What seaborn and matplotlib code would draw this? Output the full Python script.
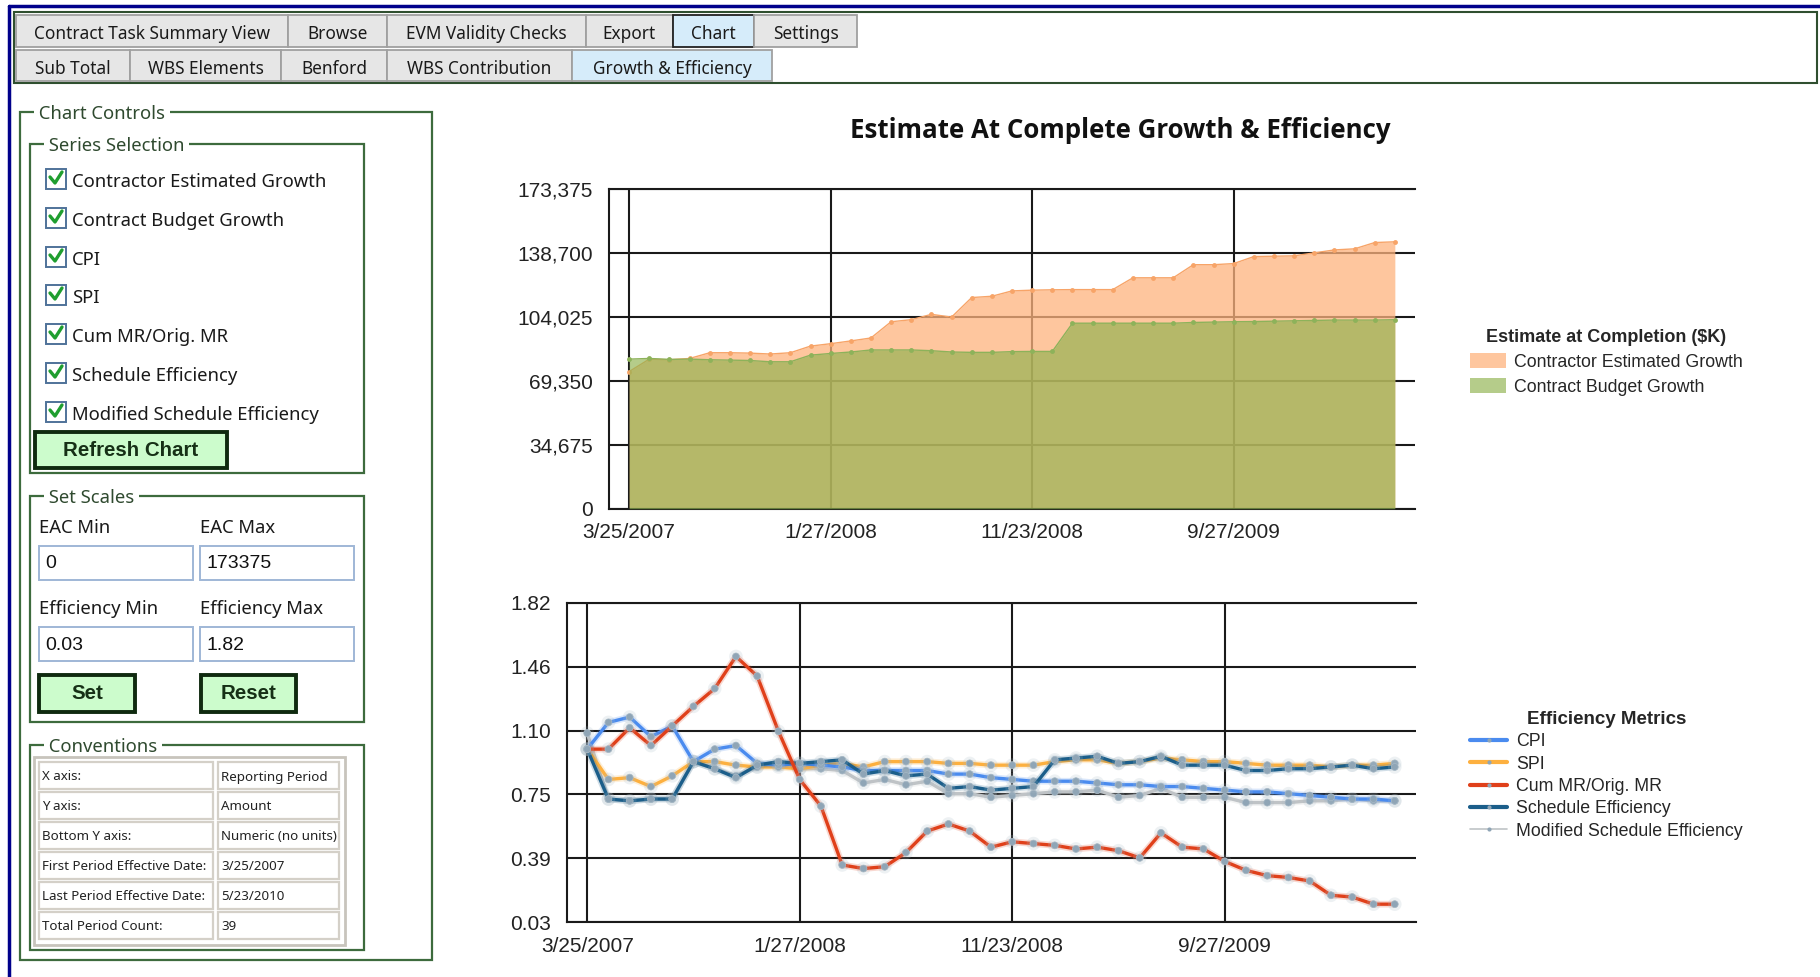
import matplotlib
matplotlib.use("Agg")
import matplotlib.pyplot as plt
import matplotlib.patheffects as pe
from matplotlib.patches import Rectangle, Patch
from matplotlib.lines import Line2D
from matplotlib.ticker import FixedLocator, FuncFormatter
import numpy as np
import pandas as pd
import seaborn as sns

W, H = 1820, 977

# --- chart data -------------------------------------------------------------
periods = list(range(39))
tick_periods = [0, 10, 20, 30]
tick_dates = ["3/25/2007", "1/27/2008", "11/23/2008", "9/27/2009"]

contractor_growth = [74300, 81050, 80700, 81400, 84500, 84500, 84300, 83800, 84500, 88100,
                     89400, 90900, 92500, 101300, 102400, 105300, 103800, 114400, 115100, 118000,
                     118400, 118600, 118700, 118700, 118700, 125100, 125100, 125100, 132200, 132200,
                     132800, 136600, 136800, 137000, 138600, 140200, 140800, 144200, 144600]
budget_growth = [81050, 81400, 80900, 81050, 80700, 80500, 80300, 79600, 79600, 83200,
                 84100, 84900, 86000, 86000, 86000, 85600, 84900, 84700, 84700, 85100,
                 85200, 85200, 100500, 100500, 100500, 100500, 100500, 100500, 100900, 101100,
                 101300, 101400, 101600, 101800, 102000, 102200, 102200, 102200, 102400]

cpi = [1.00, 1.15, 1.18, 1.07, 1.13, 0.93, 1.00, 1.02, 0.92, 0.91,
       0.92, 0.91, 0.90, 0.88, 0.88, 0.88, 0.88, 0.86, 0.86, 0.84,
       0.83, 0.82, 0.82, 0.82, 0.81, 0.80, 0.80, 0.79, 0.79, 0.78,
       0.77, 0.76, 0.76, 0.75, 0.74, 0.73, 0.72, 0.72, 0.71]
spi = [1.00, 0.83, 0.84, 0.79, 0.85, 0.93, 0.93, 0.91, 0.90, 0.90,
       0.89, 0.91, 0.92, 0.90, 0.93, 0.93, 0.93, 0.92, 0.92, 0.91,
       0.91, 0.91, 0.93, 0.94, 0.94, 0.92, 0.93, 0.95, 0.94, 0.93,
       0.93, 0.92, 0.91, 0.91, 0.91, 0.90, 0.91, 0.91, 0.92]
cum_mr = [1.00, 1.00, 1.12, 1.02, 1.13, 1.24, 1.34, 1.52, 1.41, 1.10,
          0.83, 0.68, 0.35, 0.33, 0.34, 0.42, 0.54, 0.58, 0.54, 0.45,
          0.48, 0.47, 0.46, 0.44, 0.45, 0.43, 0.39, 0.53, 0.45, 0.44,
          0.37, 0.32, 0.29, 0.28, 0.26, 0.18, 0.17, 0.13, 0.13]
sched_eff = [1.00, 0.72, 0.71, 0.72, 0.72, 0.93, 0.89, 0.84, 0.91, 0.93,
             0.92, 0.93, 0.94, 0.86, 0.88, 0.85, 0.86, 0.78, 0.79, 0.77,
             0.78, 0.79, 0.94, 0.95, 0.96, 0.92, 0.93, 0.96, 0.91, 0.91,
             0.91, 0.88, 0.88, 0.89, 0.89, 0.90, 0.91, 0.89, 0.90]
mod_sched_eff = [1.09, 0.72, 0.71, 0.72, 0.72, 0.93, 0.89, 0.85, 0.90, 0.91,
                 0.89, 0.89, 0.88, 0.81, 0.83, 0.80, 0.82, 0.75, 0.75, 0.73,
                 0.74, 0.75, 0.76, 0.76, 0.77, 0.73, 0.74, 0.78, 0.73, 0.73,
                 0.73, 0.70, 0.70, 0.70, 0.71, 0.71, 0.72, 0.71, 0.71]

eac_min, eac_max = 0, 173375
eff_min, eff_max = 0.03, 1.82

# --- form data --------------------------------------------------------------
tabs_row1 = ["Contract Task Summary View", "Browse", "EVM Validity Checks", "Export", "Chart", "Settings"]
tabs_row2 = ["Sub Total", "WBS Elements", "Benford", "WBS Contribution", "Growth & Efficiency"]
series_names = ["Contractor Estimated Growth", "Contract Budget Growth", "CPI", "SPI",
                "Cum MR/Orig. MR", "Schedule Efficiency", "Modified Schedule Efficiency"]
conv_keys = ["X axis:", "Y axis:", "Bottom Y axis:", "First Period Effective Date:",
             "Last Period Effective Date:", "Total Period Count:"]
conv_vals = ["Reporting Period", "Amount", "Numeric (no units)", "3/25/2007", "5/23/2010", "39"]

sns.set_style("white")
plt.rcParams["font.family"] = ["Noto Sans", "DejaVu Sans"]
NARROW = ["Liberation Sans Narrow", "Liberation Sans", "DejaVu Sans"]
ARIAL = ["Liberation Sans", "DejaVu Sans"]

fig = plt.figure(figsize=(W / 100, H / 100), dpi=100)
fig.patch.set_facecolor("white")


def fig_rect(x0, y0, x1, y1, **kw):
    fig.add_artist(Rectangle((x0 / W, 1 - y1 / H), (x1 - x0) / W, (y1 - y0) / H,
                             transform=fig.transFigure, **kw))


def fig_text(x, y, s, **kw):
    fig.text(x / W, 1 - y / H, s, **kw)


def fig_line(xs, ys, **kw):
    fig.add_artist(Line2D([x / W for x in xs], [1 - y / H for y in ys],
                          transform=fig.transFigure, **kw))


def group_box(x0, y0, x1, y1, title):
    fig_rect(x0, y0, x1, y1, fill=False, ec="#3d6b3d", lw=1.6)
    fig_text(x0 + 14, y0 + 2, " " + title + " ", ha="left", va="center", fontsize=13.3,
             color="#2f4a2f", bbox=dict(fc="white", ec="none", pad=0))


def button(x0, y0, x1, y1, s):
    fig_rect(x0, y0, x1, y1, fc="#ccfccc", ec="#0f2a0f", lw=2.8)
    fig_text((x0 + x1) / 2, (y0 + y1) / 2, s, ha="center", va="center", fontsize=14.8,
             fontweight="bold", family=ARIAL, color="#163016")


def field(x0, y0, x1, y1, s):
    fig_rect(x0, y0, x1, y1, fc="white", ec="#9fb7d6", lw=1.4)
    fig_text(x0 + 6, (y0 + y1) / 2 + 1, s, ha="left", va="center", fontsize=14,
             family=ARIAL, color="#111111")


def caption(x, y, s):
    fig_text(x, y + 3, s, ha="left", va="center", fontsize=13.3, color="#1a1a1a")


# window frame and tab strip
fig_line([9, 9], [6, 977], color="#00008b", lw=2.5)
fig_line([9, 1820], [6, 6], color="#00008b", lw=2.5)
fig_rect(14, 12, 1817, 83, fill=False, ec="#2f4f2f", lw=1.5)

row1_edges = [16, 288, 387, 586, 673, 754, 857]
row2_edges = [16, 130, 281, 387, 572, 772]
for names, edges, y0, y1, sel in [(tabs_row1, row1_edges, 15, 47, "Chart"),
                                  (tabs_row2, row2_edges, 50, 81, "Growth & Efficiency")]:
    for i, name in enumerate(names):
        x0, x1 = edges[i], edges[i + 1]
        fc = "#d6ecfa" if name == sel else "#e6e6e6"
        ec = "#222222" if name == "Chart" else "#a0a0a0"
        fig_rect(x0, y0, x1, y1, fc=fc, ec=ec, lw=1.3)
        fig_text((x0 + x1) / 2, (y0 + y1) / 2 + 3, name, ha="center", va="center",
                 fontsize=12.4, color="#1a1a1a")

# left control panel
group_box(20, 112, 432, 960, "Chart Controls")
group_box(30, 144, 364, 473, "Series Selection")
check_y = [179, 218, 257, 295, 334, 373, 412]
for name, yc in zip(series_names, check_y):
    fig_rect(46, yc - 10, 66, yc + 10, fc="white", ec="#4f7299", lw=1.4)
    fig_line([50, 55, 62], [yc - 2, yc + 4, yc - 7], color="#1f9e2f", lw=2.4)
    caption(72, yc, name)
button(35, 432, 227, 468, "Refresh Chart")

group_box(30, 496, 364, 722, "Set Scales")
caption(39, 525, "EAC Min")
caption(200, 525, "EAC Max")
field(39, 546, 193, 580, str(eac_min))
field(200, 546, 354, 580, str(eac_max))
caption(39, 606, "Efficiency Min")
caption(200, 606, "Efficiency Max")
field(39, 627, 193, 661, f"{eff_min:.2f}")
field(200, 627, 354, 661, f"{eff_max:.2f}")
button(39, 675, 135, 712, "Set")
button(201, 675, 296, 712, "Reset")

group_box(30, 745, 364, 950, "Conventions")
fig_rect(34, 757, 345, 945, fc="white", ec="#c8c4bc", lw=2)
row_tops = [762, 792, 822, 852, 882, 912]
for k, v, yt in zip(conv_keys, conv_vals, row_tops):
    fig_rect(39, yt, 213, yt + 27, fc="white", ec="#d4d0c8", lw=1.6)
    fig_rect(218, yt, 339, yt + 27, fc="white", ec="#d4d0c8", lw=1.6)
    fig_text(42, yt + 15, k, ha="left", va="center", fontsize=9.6, color="#222222")
    fig_text(221, yt + 15, v, ha="left", va="center", fontsize=9.6, color="#222222")

fig_text(1120, 130, "Estimate At Complete Growth & Efficiency", ha="center", va="center",
         fontsize=18.6, fontweight="bold", family=["Open Sans", "Noto Sans"], color="#111111")

# --- top chart: EAC growth ---------------------------------------------------
ax1 = fig.add_axes([609 / W, 1 - 508.7 / H, (1415 - 609) / W, 320 / H])
eac = pd.DataFrame({"period": periods,
                    "Contractor Estimated Growth": contractor_growth,
                    "Contract Budget Growth": budget_growth})

orange_fill = (254 / 255, 179 / 255, 126 / 255)
green_fill = (143 / 255, 178 / 255, 78 / 255)
ax1.fill_between(eac["period"], 0, eac["Contractor Estimated Growth"], color=orange_fill,
                 alpha=0.75, lw=0, zorder=2)
sns.lineplot(data=eac, x="period", y="Contractor Estimated Growth", ax=ax1, color="#f7a468",
             lw=1, marker="o", markersize=3.5, markeredgewidth=0, zorder=3)
ax1.fill_between(eac["period"], 0, eac["Contract Budget Growth"], color=green_fill,
                 alpha=0.66, lw=0, zorder=4)
sns.lineplot(data=eac, x="period", y="Contract Budget Growth", ax=ax1, color="#8db25a",
             lw=1, marker="o", markersize=3.5, markeredgewidth=0, zorder=5)

ax1.set_xlim(-1.0, 39)
ax1.set_ylim(eac_min, eac_max)
ax1.yaxis.set_major_locator(FixedLocator(np.linspace(eac_min, eac_max, 6)))
ax1.yaxis.set_major_formatter(FuncFormatter(lambda v, p: f"{v:,.0f}"))

# --- bottom chart: efficiency metrics ---------------------------------------
ax2 = fig.add_axes([567 / W, 1 - 922 / H, (1416 - 567) / W, 319 / H])
eff = pd.DataFrame({"period": periods, "CPI": cpi, "SPI": spi, "Cum MR/Orig. MR": cum_mr,
                    "Schedule Efficiency": sched_eff,
                    "Modified Schedule Efficiency": mod_sched_eff})
eff_long = eff.melt(id_vars="period", var_name="metric", value_name="value")
metric_colors = {"CPI": "#4a8bef", "SPI": "#fdb03f", "Cum MR/Orig. MR": "#e0401a",
                 "Schedule Efficiency": "#1b5e8a", "Modified Schedule Efficiency": "#bfc3c6"}
draw_order = ["Modified Schedule Efficiency", "SPI", "CPI", "Schedule Efficiency", "Cum MR/Orig. MR"]
sns.lineplot(data=eff_long, x="period", y="value", hue="metric", hue_order=draw_order,
             palette=metric_colors, ax=ax2, lw=2.4, legend=False, marker="o", markersize=5,
             markerfacecolor="#8fa5b6", markeredgecolor="#a9bac6", markeredgewidth=0.5,
             path_effects=[pe.Stroke(linewidth=4.8, alpha=0.2), pe.Normal()], zorder=3)

ax2.set_xlim(-0.95, 39)
ax2.set_ylim(eff_min, eff_max)
ax2.yaxis.set_major_locator(FixedLocator(np.linspace(eff_min, eff_max, 6)))
ax2.yaxis.set_major_formatter(FuncFormatter(lambda v, p: f"{v:.2f}"))

for ax in (ax1, ax2):
    ax.set_xticks(tick_periods)
    ax.set_xticklabels(tick_dates)
    ax.set_xlabel("")
    ax.set_ylabel("")
    ax.set_facecolor("white")
    ax.set_axisbelow(True)
    ax.grid(True, color="#1a1a1a", lw=1.5)
    for side in ("left", "bottom", "top"):
        ax.spines[side].set_color("#1a1a1a")
        ax.spines[side].set_linewidth(1.5)
    ax.spines["right"].set_visible(False)
    ax.tick_params(axis="x", direction="out", length=6.5, width=1.5, color="#1a1a1a", pad=4)
    ax.tick_params(axis="y", direction="out", length=8.5, width=1.5, color="#1a1a1a", pad=3)
    for lab in ax.get_xticklabels() + ax.get_yticklabels():
        lab.set_fontsize(15)
        lab.set_family(NARROW)
        lab.set_color("#222222")

# --- legends -----------------------------------------------------------------
eac_handles = [Patch(fc="#fec69e", ec="none"), Patch(fc="#b5cc8a", ec="none")]
ax1.legend(eac_handles, ["Contractor Estimated Growth", "Contract Budget Growth"],
           loc="upper left", bbox_to_anchor=(1470 / W, 1 - 329 / H), bbox_transform=fig.transFigure,
           frameon=False, title="Estimate at Completion ($K)",
           title_fontproperties={"family": NARROW, "weight": "bold", "size": 13},
           prop={"family": ARIAL, "size": 12.8}, handlelength=2.0, handleheight=0.95,
           handletextpad=0.45, labelspacing=0.4, borderpad=0, borderaxespad=0)

legend_order = ["CPI", "SPI", "Cum MR/Orig. MR", "Schedule Efficiency", "Modified Schedule Efficiency"]
eff_handles = [Line2D([0], [0], color=metric_colors[m], lw=1.2 if m.startswith("Modified") else 3,
                      marker="o", markersize=3, markerfacecolor="#8fa5b6", markeredgewidth=0)
               for m in legend_order]
ax2.legend(eff_handles, legend_order, loc="upper left", bbox_to_anchor=(1470 / W, 1 - 711 / H),
           bbox_transform=fig.transFigure, frameon=False, title="Efficiency Metrics",
           title_fontproperties={"family": NARROW, "weight": "bold", "size": 13.5},
           prop={"family": ARIAL, "size": 12.8}, handlelength=2.1, handletextpad=0.5,
           labelspacing=0.3, borderpad=0, borderaxespad=0, numpoints=1)

fig.savefig("out.png", dpi=100, facecolor="white")
